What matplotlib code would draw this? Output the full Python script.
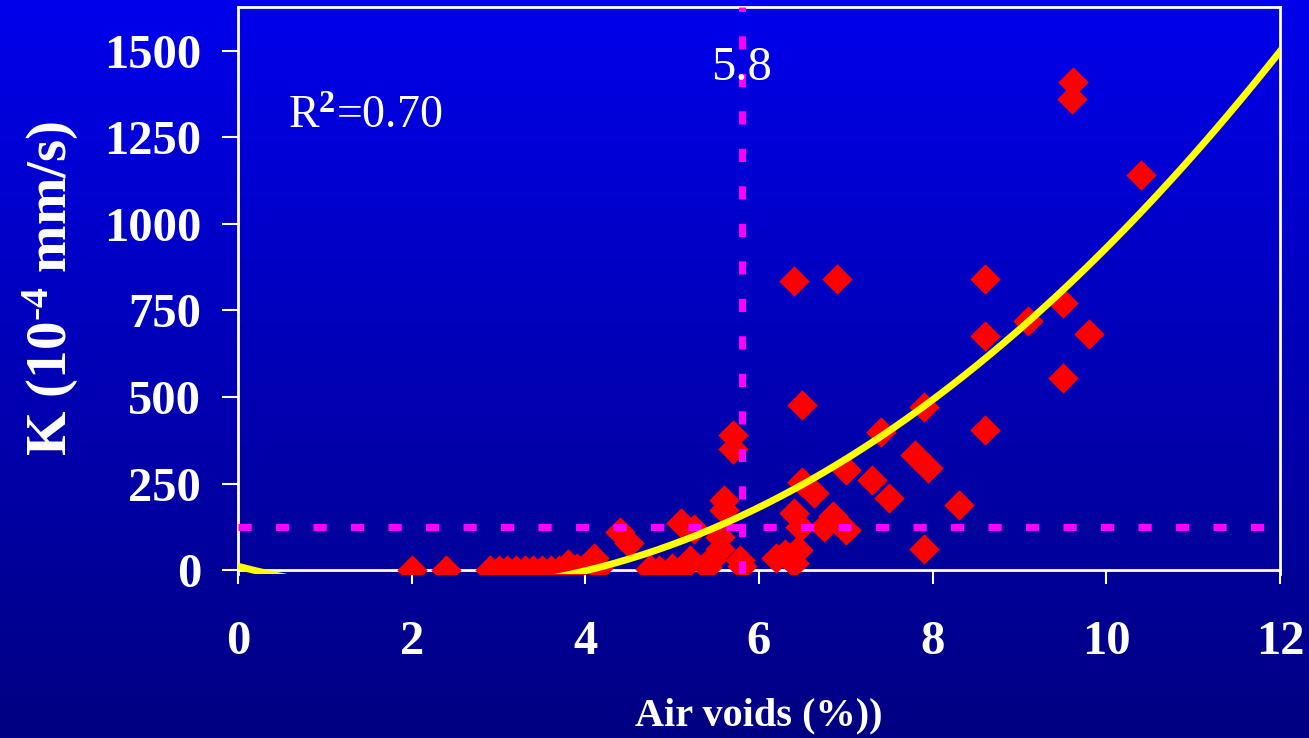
import numpy as np
import matplotlib
matplotlib.use("Agg")
import matplotlib.pyplot as plt

# Measured points: air voids (%) vs permeability K (1e-4 mm/s)
air_voids = [2.0, 2.4, 2.9, 3.0, 3.1, 3.2, 3.3, 3.4, 3.5, 3.6, 3.7, 3.8, 3.9,
             4.1, 4.15, 4.4, 4.5, 4.75, 4.85, 5.0, 5.1, 5.1, 5.25, 5.2, 5.4,
             5.45, 5.55, 5.55, 5.6, 5.6, 5.7, 5.7, 5.78, 5.8, 6.2, 6.3, 6.4,
             6.45, 6.4, 6.47, 6.5, 6.63, 6.5, 6.4, 6.9, 6.75, 6.85, 7.0, 7.0,
             7.3, 7.4, 7.5, 7.8, 7.95, 7.9, 7.9, 8.3, 8.6, 8.6, 8.6, 9.1, 9.5,
             9.5, 9.8, 9.6, 9.62, 10.4]
perm_k = [0, 0, 0, 0, 0, 0, 0, 0, 0, 0, 0, 18, 5,
          35, 5, 110, 78, 3, 0, 5, 0, 135, 120, 29, 9,
          29, 60, 95, 202, 173, 390, 350, 29, 12, 35, 45, 20,
          58, 165, 124, 254, 222, 477, 835, 842, 124, 155, 116, 289,
          260, 399, 208, 332, 295, 471, 62, 188, 405, 675, 840, 720, 772,
          555, 682, 1360, 1410, 1142]

# polynomial trendline (highest power first), R^2 as printed on chart
trend_coef = [0.013, 15.7, -66.3, 11.0]
r_squared = "0.70"

threshold_voids = 5.8
threshold_k = 125

x_ticks = [0, 2, 4, 6, 8, 10, 12]
y_ticks = [0, 250, 500, 750, 1000, 1250, 1500]

serif = ['Liberation Serif', 'DejaVu Serif']
plt.rcParams['font.family'] = serif
plt.rcParams['mathtext.fontset'] = 'custom'
plt.rcParams['mathtext.rm'] = 'Liberation Serif:bold'
plt.rcParams['mathtext.bf'] = 'Liberation Serif:bold'
plt.rcParams['mathtext.it'] = 'Liberation Serif'  # used for the regular R^2

fig = plt.figure(figsize=(13.09, 7.38), dpi=100)

# blue gradient background over the whole figure
bg = fig.add_axes([0, 0, 1, 1], zorder=-10)
grad = np.linspace(235, 130, 256) / 255.0
img = np.zeros((256, 1, 3))
img[:, 0, 2] = grad
bg.imshow(img, aspect='auto', extent=[0, 1, 0, 1])
bg.axis('off')

W, H = 1309, 738
ax = fig.add_axes([238 / W, 1 - 574.2 / H, (1280 - 238) / W, (574.2 - 7) / H])
ax.patch.set_alpha(0)

ax.scatter(air_voids, perm_k, marker='D', s=15.5 ** 2, color='#FF0000',
           linewidths=0, zorder=3)

ax.axvline(threshold_voids, color='#FF00FF', lw=5, dashes=(1.9, 3.5),
           dash_capstyle='butt', zorder=4)
ax.axhline(threshold_k, color='#FF00FF', lw=5, dashes=(1.9, 3.5),
           dash_capstyle='butt', zorder=4)

xs = np.linspace(0, 12, 300)
ax.plot(xs, np.polyval(trend_coef, xs), color='#FFFF00', lw=5, zorder=5)

ax.set_xlim(0, 12)
ax.set_ylim(-12, 1627)
ax.set_xticks(x_ticks)
ax.set_yticks(y_ticks)

for side in ['left', 'top', 'right', 'bottom']:
    ax.spines[side].set_color('white')
    ax.spines[side].set_linewidth(2)
ax.spines['bottom'].set_position(('data', 0))

ax.tick_params(axis='y', direction='out', length=11.5, width=1.5,
               colors='white', pad=15)
ax.tick_params(axis='x', direction='out', length=10, width=1.5,
               colors='white', pad=26)
for lab in ax.get_xticklabels() + ax.get_yticklabels():
    lab.set_fontsize(35)
    lab.set_fontweight('bold')
    lab.set_color('white')

ax.text(0.58, 1277, r'R$^{\mathit{2}}$=' + r_squared, color='white',
        fontsize=33, va='baseline', ha='left', zorder=6)
ax.text(threshold_voids, 1416, '5.8', color='white', fontsize=35,
        va='baseline', ha='center', zorder=6)

fig.text(51 / W, 1 - 288 / H, r'K (10$^{\text{-4}}$ mm/s)', rotation=90,
         color='white', fontsize=41, fontweight='bold', ha='center', va='center')
fig.text(759 / W, 1 - 716 / H, 'Air voids (%))', color='white', fontsize=29,
         fontweight='bold', ha='center', va='center')

fig.savefig('out.png', dpi=100)
